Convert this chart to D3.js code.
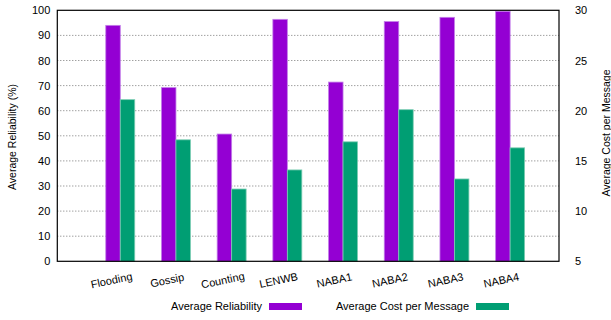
<!DOCTYPE html>
<html>
<head>
<meta charset="utf-8">
<script src="https://cdn.jsdelivr.net/npm/d3@7"></script>
<style>
  body { margin: 0; background: #fff; }
  svg { font-family: "Liberation Sans", Arial, sans-serif; }
</style>
</head>
<body>
<div class="chart"></div>
<script>
const categories = ["Flooding","Gossip","Counting","LENWB","NABA1","NABA2","NABA3","NABA4"]
const reliability = [94.0, 69.2, 50.7, 96.4, 71.4, 95.5, 97.2, 99.6]
const costPerMessage = [21.1, 17.1, 12.2, 14.1, 16.9, 20.1, 13.2, 16.3]
const leftTicks = [0,10,20,30,40,50,60,70,80,90,100]
const rightTicks = [5,10,15,20,25,30]
const seriesNames = ["Average Reliability","Average Cost per Message"]

const colors = ["#9400d3","#009e73"]
const W = 611, H = 320
const plotL = 57.3, plotR = 559, plotT = 10.3, plotB = 261.3

const svg = d3.select(".chart").append("svg")
  .attr("width",W).attr("height",H)

const x = d3.scaleBand()
  .domain(categories)
  .range([plotL,plotR])
  .paddingInner(0.48)
  .paddingOuter(0.744)
  .align(0.585)

const xs = d3.scaleBand().domain([0,1]).range([0,x.bandwidth()])

const yL = d3.scaleLinear().domain([0,100]).range([plotB,plotT])
const yR = d3.scaleLinear().domain([5,30]).range([plotB,plotT])

// grid
svg.append("g")
  .selectAll("line")
  .data(leftTicks.filter(d=>d>0 && d<100))
  .enter().append("line")
  .attr("x1",plotL).attr("x2",plotR)
  .attr("y1",d=>yL(d)).attr("y2",d=>yL(d))
  .attr("stroke","#555").attr("stroke-width",0.8)
  .attr("stroke-dasharray","1,2")

// bars
const groups = svg.append("g").selectAll("g")
  .data(categories)
  .enter().append("g")
  .attr("transform",d=>`translate(${x(d)},0)`)

groups.append("rect")
  .attr("x",xs(0)).attr("width",xs.bandwidth())
  .attr("y",(d,i)=>yL(reliability[i]))
  .attr("height",(d,i)=>plotB-yL(reliability[i]))
  .attr("fill",colors[0])
  .attr("stroke","#c27ee9").attr("stroke-width",0.8)

groups.append("rect")
  .attr("x",xs(1)).attr("width",xs.bandwidth())
  .attr("y",(d,i)=>yR(costPerMessage[i]))
  .attr("height",(d,i)=>plotB-yR(costPerMessage[i]))
  .attr("fill",colors[1])
  .attr("stroke","#7cccb3").attr("stroke-width",0.8)

// frame
svg.append("rect")
  .attr("x",plotL).attr("y",plotT)
  .attr("width",plotR-plotL).attr("height",plotB-plotT)
  .attr("fill","none").attr("stroke","#000").attr("stroke-width",1.2)

// axes
const yAxisL = d3.axisLeft(yL).tickValues(leftTicks).tickSize(0).tickPadding(7)
const yAxisR = d3.axisRight(yR).tickValues(rightTicks).tickSize(0).tickPadding(16)

const gl = svg.append("g").attr("transform",`translate(${plotL},0)`).call(yAxisL)
const gr = svg.append("g").attr("transform",`translate(${plotR},0)`).call(yAxisR)
;[gl,gr].forEach(g=>{
  g.select(".domain").remove()
  g.selectAll("text").attr("font-size",11).attr("fill","#000")
    .attr("font-family","Liberation Sans, Arial, sans-serif")
})

// x labels
svg.append("g").selectAll("text")
  .data(categories)
  .enter().append("text")
  .attr("transform",d=>`translate(${x(d)+x.bandwidth()/2-8},${284}) rotate(-12)`)
  .attr("text-anchor","middle")
  .attr("font-size",11)
  .text(d=>d)

// axis titles
svg.append("text")
  .attr("transform",`translate(16,137) rotate(-90)`)
  .attr("text-anchor","middle")
  .attr("font-size",10.5)
  .text("Average Reliability (%)")

svg.append("text")
  .attr("transform",`translate(610,133) rotate(-90)`)
  .attr("text-anchor","middle")
  .attr("font-size",10.5)
  .text("Average Cost per Message")

// legend
const legendX = [262, 469]
const legend = svg.append("g").selectAll("g")
  .data(seriesNames)
  .enter().append("g")
  .attr("transform",(d,i)=>`translate(${legendX[i]},306.5)`)

legend.append("text")
  .attr("text-anchor","end")
  .attr("dy","0.35em")
  .attr("font-size",11)
  .text(d=>d)

legend.append("rect")
  .attr("x",7).attr("y",-3.5)
  .attr("width",33).attr("height",7)
  .attr("fill",(d,i)=>colors[i])
</script>
</body>
</html>
